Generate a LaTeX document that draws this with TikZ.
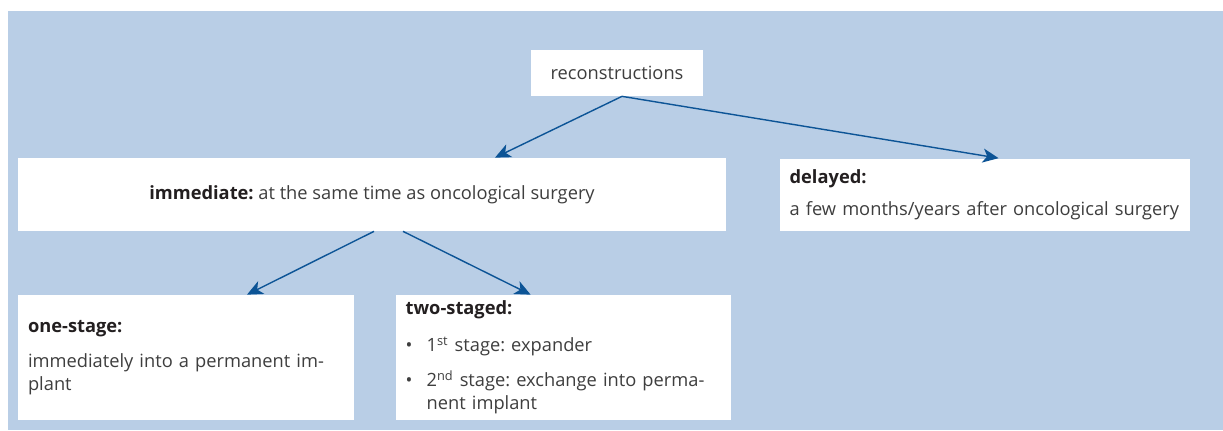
\documentclass[tikz,border=0pt]{standalone}
\usepackage{fontspec}
\setmainfont{Open Sans}
\usepackage{xcolor}
\definecolor{panelblue}{RGB}{185,206,230}
\definecolor{arrowblue}{RGB}{12,84,150}
\definecolor{textgrey}{RGB}{62,62,62}
\definecolor{headblack}{RGB}{35,31,32}
\usepackage{tikz}
\usetikzlibrary{arrows.meta,positioning}
\tikzset{
  >={Stealth[length=9pt,width=8pt,inset=2.5pt]},
  box/.style={rectangle,fill=white,inner sep=0pt,text=textgrey,font=\fontsize{10.4}{13}\selectfont},
  textbox/.style={box,align=left},
  edge/.style={->,line width=0.8pt,draw=arrowblue}
}
\newcommand{\head}[1]{{\color{headblack}\textbf{#1}}}
\newcommand{\bul}{\makebox[0.42cm][l]{\textbullet}}
\frenchspacing

\begin{document}
\begin{tikzpicture}[x=0.02cm,y=-0.02cm]
  \useasboundingbox (0,0) rectangle (1223,430);
  \fill[panelblue] (8,11) rectangle (1223,430);

  \node[box,minimum width=3.44cm,minimum height=0.92cm] (rec) at (617,73) {reconstructions};
  \node[box,minimum width=14.16cm,minimum height=1.46cm] (imm) at (372,194.5) {\head{immediate:} at the same time as oncological surgery};
  \node[textbox,minimum width=8.2cm,minimum height=1.44cm,text width=7.8cm,right=1.06cm of imm] (del)
    {\head{delayed:}\\[5pt] a few months/years after oncological surgery};
  \node[textbox,minimum width=6.72cm,minimum height=2.5cm,text width=6.32cm] (one) at (186,357.5)
    {\head{one-stage:}\\[7pt] immediately into a permanent im-\\ plant};
  \node[textbox,minimum width=6.7cm,minimum height=2.5cm,text width=6.3cm,right=0.82cm of one] (two)
    {\head{two-staged:}\\[8pt]
     \bul 1\textsuperscript{st} stage: expander\\[7pt]
     \bul 2\textsuperscript{nd} stage: exchange into perma-\\
     \hspace*{0.42cm}nent implant};

  \draw[edge] ([xshift=0.1cm]rec.south) -- ([xshift=2.46cm]imm.north);
  \draw[edge] ([xshift=0.1cm]rec.south) -- ([xshift=0.28cm]del.north);
  \draw[edge] ([xshift=0.04cm]imm.south) -- ([xshift=1.22cm]one.north);
  \draw[edge] ([xshift=0.62cm]imm.south) -- ([xshift=-0.65cm]two.north);
\end{tikzpicture}
\end{document}
